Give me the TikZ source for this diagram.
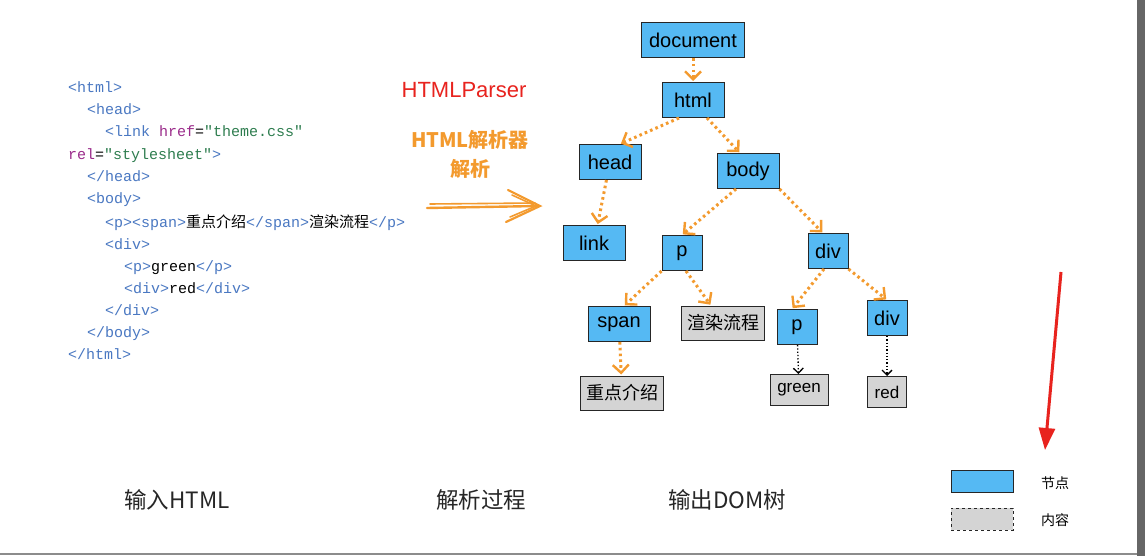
\documentclass[tikz,border=0pt]{standalone}
\usepackage{fontspec}
\setmainfont{Liberation Sans}
\setmonofont{Liberation Mono}
\newfontfamily\cjk{Noto Sans CJK SC}
\usetikzlibrary{arrows.meta}
\definecolor{nodeblue}{HTML}{55B9F3}
\definecolor{contgray}{HTML}{D4D4D4}
\definecolor{eorange}{HTML}{F39A2E}
\definecolor{tagc}{HTML}{4A78C2}
\definecolor{attrc}{HTML}{9B2C8B}
\definecolor{strc}{HTML}{2E7D4F}
\definecolor{redc}{HTML}{E8231E}
\newcommand{\tg}[1]{\textcolor{tagc}{#1}}
\begin{document}
\begin{tikzpicture}[x=1pt,y=-1pt,
  box/.style={draw=black!85,line width=1pt,fill=nodeblue,minimum height=35pt,minimum width=62pt,inner xsep=5pt,font=\fontsize{20}{20}\selectfont},
  sbox/.style={box,minimum width=40pt},
  cont/.style={draw=black!85,line width=1pt,fill=contgray,minimum height=34pt,inner xsep=5pt,font=\cjk\fontsize{18}{18}\selectfont},
  oe/.style={draw=eorange,line width=3pt,dash pattern=on 2.6pt off 3.2pt,shorten >=1pt,-{Straight Barb[length=8pt,width=16pt,line width=2.4pt]}},
  be/.style={draw=black,line width=1.3pt,dash pattern=on 1.3pt off 2pt,-{Straight Barb[length=5pt,width=10pt,line width=1.3pt]}},
  code/.style={anchor=base west,inner sep=0pt,font=\ttfamily\fontsize{15}{15}\selectfont},
  lbl/.style={text=black!85,font=\cjk\fontsize{22.5}{22.5}\selectfont}]
\useasboundingbox (0,0) rectangle (1145,556);
\fill[white] (0,0) rectangle (1145,556);
\fill[black!60] (1137,0) rectangle (1145,556);
\draw[black!45,line width=1.5pt] (0,554) -- (1137,554);
% code
\node[code] (c1) at (68,93) {\tg{<html>}};
\node[code] (c2) at (87,115) {\tg{<head>}};
\node[code] (c3) at (105,137) {\tg{<link} \textcolor{attrc}{href}=\textcolor{strc}{"theme.css"}};
\node[code] (c4) at (68,160) {\textcolor{attrc}{rel}=\textcolor{strc}{"stylesheet"}\tg{>}};
\node[code] (c5) at (87,182) {\tg{</head>}};
\node[code] (c6) at (87,204) {\tg{<body>}};
\node[code] (c7) at (105,227) {\tg{<p><span>}{\cjk 重点介绍}\tg{</span>}{\cjk 渲染流程}\tg{</p>}};
\node[code] (c8) at (105,249) {\tg{<div>}};
\node[code] (c9) at (124,271) {\tg{<p>}green\tg{</p>}};
\node[code] (c10) at (124,293) {\tg{<div>}red\tg{</div>}};
\node[code] (c11) at (105,315) {\tg{</div>}};
\node[code] (c12) at (87,337) {\tg{</body>}};
\node[code] (c13) at (68,359) {\tg{</html>}};
% parser labels
\node[text=redc,font=\fontsize{22}{22}\selectfont] (hp) at (464,90) {HTMLParser};
\node[text=eorange,font=\cjk\bfseries\fontsize{20}{20}\selectfont] (hp2) at (470,140) {HTML解析器};
\node[text=eorange,font=\cjk\bfseries\fontsize{20}{20}\selectfont] (hp3) at (470,169) {解析};
\draw[eorange,line width=2.4pt,line cap=round] (427,208) -- (538,206);
\draw[eorange,line width=1.6pt,line cap=round] (430,204) -- (535,203);
\draw[eorange,line width=2.2pt,line cap=round] (508,190) -- (540,206) -- (506,222);
\draw[eorange,line width=1.6pt,line cap=round] (512,195) -- (536,206) -- (510,217);
% tree
\node[box,minimum width=103pt] (doc) at (693,40) {document};
\node[box] (html) at (693,100) {html};
\node[box] (head) at (610,162) {head};
\node[box] (body) at (748,171) {body};
\node[box] (link) at (594,243) {link};
\node[sbox] (p) at (682,253) {p};
\node[sbox] (div) at (828,251) {div};
\node[box] (span) at (619,324) {span};
\node[cont,minimum width=83pt] (xr) at (723,323) {渲染流程};
\node[sbox] (p2) at (797,327) {p};
\node[sbox] (div2) at (887,318) {div};
\node[cont,minimum width=83pt] (zd) at (622,393) {重点介绍};
\node[cont,font=\fontsize{17}{17}\selectfont,minimum height=31pt,minimum width=58pt] (green) at (799,390) {green};
\node[cont,font=\fontsize{17}{17}\selectfont,minimum height=31pt,minimum width=39pt,inner xsep=3pt] (red) at (887,392) {red};
\draw[oe] ([xshift=-14pt]html.south) -- ([xshift=10pt]head.north);
\draw[oe] (doc) -- (html);
\draw[oe] ([xshift=14pt]html.south) -- ([xshift=-8pt]body.north);
\draw[oe] (head) -- (link);
\draw[oe] ([xshift=-12pt]body.south) -- (p.north);
\draw[oe] (body.south east) -- ([xshift=-5pt]div.north);
\draw[oe] (p.south west) -- ([xshift=5pt]span.north);
\draw[oe] ([xshift=4pt]p.south) -- ([xshift=-12pt]xr.north);
\draw[oe] (span) -- (zd);
\draw[oe] ([xshift=-4pt]div.south) -- ([xshift=-5pt]p2.north);
\draw[oe] (div.south east) -- (div2.north);
\draw[be] (p2) -- (green);
\draw[be] (div2) -- (red);
% legend
\node[draw=black!85,fill=nodeblue,minimum width=62pt,minimum height=22pt,inner sep=0pt] (lb) at (982,481) {};
\node[draw=black!85,dashed,fill=contgray,minimum width=62pt,minimum height=22pt,inner sep=0pt] (lg) at (982,519) {};
\node[font=\cjk\fontsize{14}{14}\selectfont] (lt1) at (1055,483) {节点};
\node[font=\cjk\fontsize{14}{14}\selectfont] (lt2) at (1055,520) {内容};
\coordinate (rs) at (1061,272);
\coordinate (re) at (1045,450);
\draw[redc,line width=3pt,-{Triangle[length=22pt,width=16pt]}] (rs) -- (re);
% bottom labels
\node[lbl] (b1) at (177,500) {输入HTML};
\node[lbl] (b2) at (481,500) {解析过程};
\node[lbl] (b3) at (727,500) {输出DOM树};
\end{tikzpicture}
\end{document}
